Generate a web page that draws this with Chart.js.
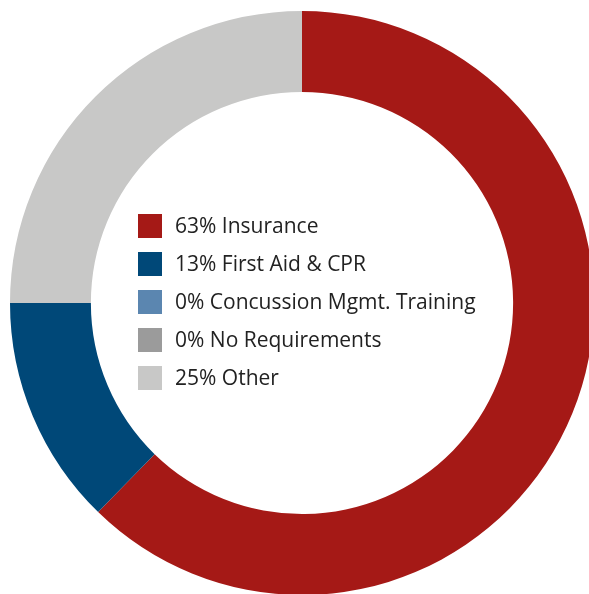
<!DOCTYPE html>
<html>
<head>
<meta charset="utf-8">
<script src="https://cdn.jsdelivr.net/npm/chart.js@4"></script>
<style>
html,body{margin:0;padding:0;background:#fff;overflow:hidden;width:589px;height:594px;}
#wrap{position:absolute;left:10px;top:11px;width:584px;height:584px;}
</style>
</head>
<body>
<div id="wrap"><canvas id="c" width="584" height="584"></canvas></div>
<script>
const categories = ["Insurance", "First Aid & CPR", "Concussion Mgmt. Training", "No Requirements", "Other"];
const percentValues = [62.3, 12.7, 0, 0, 25];
const legendLabels = ["63% Insurance", "13% First Aid & CPR", "0% Concussion Mgmt. Training", "0% No Requirements", "25% Other"];
const sliceColors = ["#A51916", "#004878", "#5B86B0", "#9B9B9B", "#C8C8C7"];

const centerLegend = {
  id: 'centerLegend',
  afterDraw(chart) {
    const ctx = chart.ctx;
    const meta = chart.getDatasetMeta(0);
    const arc = meta.data[0];
    const cx = arc.x, cy = arc.y;
    ctx.save();
    ctx.font = '21px "Open Sans", Lato, sans-serif';
    ctx.textBaseline = 'middle';
    ctx.textAlign = 'left';
    legendLabels.forEach((t, i) => {
      const top = cy - 89 + i * 38;
      ctx.fillStyle = sliceColors[i];
      ctx.fillRect(cx - 164, top, 24, 24);
      ctx.fillStyle = '#222222';
      ctx.fillText(t, cx - 127, top + 13);
    });
    ctx.restore();
  }
};

new Chart(document.getElementById('c'), {
  type: 'doughnut',
  data: {
    labels: categories,
    datasets: [{
      data: percentValues,
      backgroundColor: sliceColors,
      borderWidth: 0
    }]
  },
  options: {
    responsive: false,
    animation: false,
    cutout: '72.3%',
    layout: { padding: 0 },
    plugins: { legend: { display: false }, tooltip: { enabled: false } }
  },
  plugins: [centerLegend]
});
</script>
</body>
</html>
